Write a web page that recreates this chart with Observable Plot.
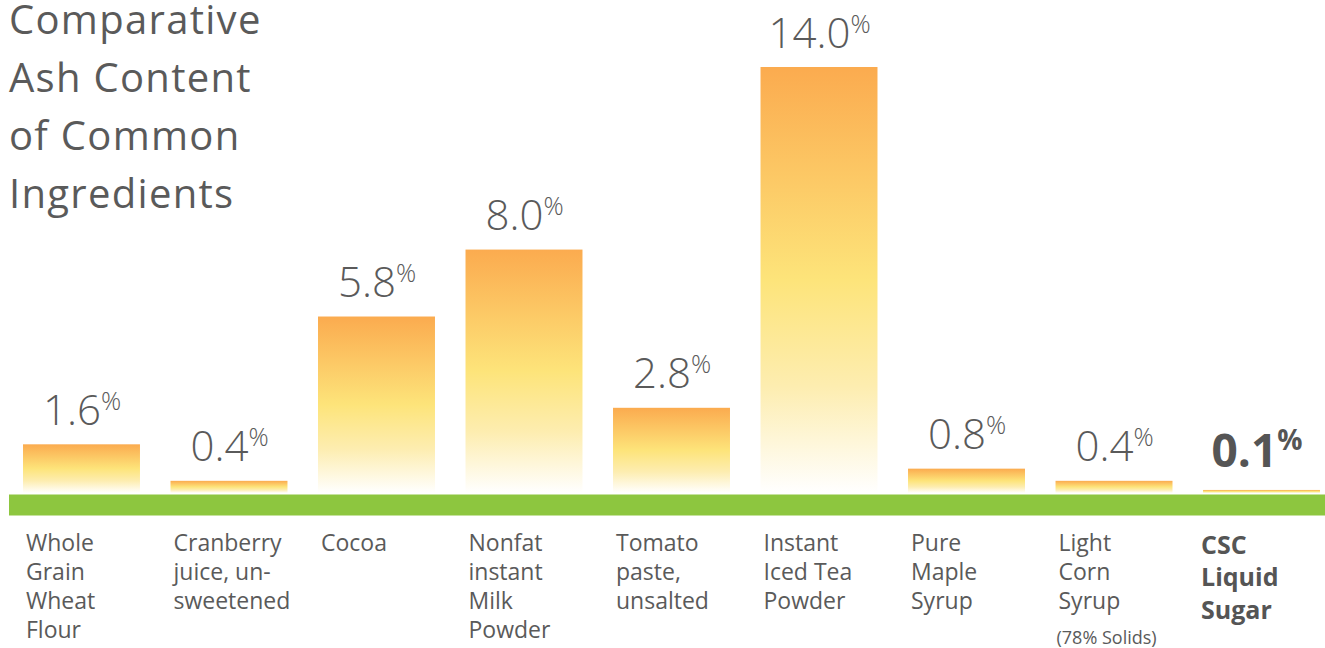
<!DOCTYPE html>
<html><head><meta charset="utf-8">
<script src="https://cdn.jsdelivr.net/npm/d3@7"></script>
<script src="https://cdn.jsdelivr.net/npm/@observablehq/plot@0.6"></script>
<style>
html,body{margin:0;padding:0;background:#fff;}
#wrap{position:relative;width:1325px;height:648px;overflow:hidden;}
#title{position:absolute;left:9px;top:0;margin:0;font-family:"Open Sans",sans-serif;font-size:40px;letter-spacing:1.3px;color:#5a5a5a;font-weight:400;}
#title span{display:block;height:58px;line-height:38px;white-space:nowrap;}
</style></head><body>
<div id="wrap"><h1 id="title"><span>Comparative</span><span>Ash Content</span><span>of Common</span><span>Ingredients</span></h1></div>
<script>
const categories = ["Whole Grain Wheat Flour","Cranberry juice, unsweetened","Cocoa","Nonfat instant Milk Powder","Tomato paste, unsalted","Instant Iced Tea Powder","Pure Maple Syrup","Light Corn Syrup","CSC Liquid Sugar"];
const labels = ["Whole\nGrain\nWheat\nFlour","Cranberry\njuice, un-\nsweetened","Cocoa","Nonfat\ninstant\nMilk\nPowder","Tomato\npaste,\nunsalted","Instant\nIced Tea\nPowder","Pure\nMaple\nSyrup","Light\nCorn\nSyrup","CSC\nLiquid\nSugar"];
const values = [1.6, 0.4, 5.8, 8.0, 2.8, 14.0, 0.8, 0.4, 0.1];
const notes = ["","","","","","","","(78% Solids)",""];
const highlight = "CSC Liquid Sugar";

const data = categories.map((c,i)=>({category:c,label:labels[i],value:values[i],note:notes[i],bold:c===highlight}));
const gray = "#5a5a5a";

const gradient = () => {
  const defs = d3.create("svg:defs");
  const g = defs.append("linearGradient").attr("id","ashGrad").attr("x1",0).attr("y1",0).attr("x2",0).attr("y2",1);
  g.append("stop").attr("offset","0").attr("stop-color","#fbab4f");
  g.append("stop").attr("offset","0.5").attr("stop-color","#fde47a");
  g.append("stop").attr("offset","0.75").attr("stop-color","#fdedb0");
  g.append("stop").attr("offset","1").attr("stop-color","#ffffff");
  return defs.node();
};

const chart = Plot.plot({
  width:1325, height:648,
  marginLeft:23, marginRight:5, marginTop:67, marginBottom:155,
  x:{domain:categories, paddingInner:0.207, paddingOuter:0, round:false, axis:null},
  y:{domain:[0,14], axis:null},
  style:{fontFamily:"'Open Sans', sans-serif", background:"transparent", overflow:"visible"},
  marks:[
    gradient,
    Plot.barY(data,{x:"category", y:"value", fill:"url(#ashGrad)"}),
    Plot.ruleY([0],{stroke:"#8dc63f", strokeWidth:21, dy:11.5, insetLeft:-14, insetRight:-5}),
    Plot.text(data.filter(d=>!d.bold),{x:"category", y:"value", text:d=>d.value.toFixed(1)+"%", lineAnchor:"bottom", dy:-20, fontSize:42, fontWeight:300, fill:gray}),
    Plot.text(data.filter(d=>d.bold),{x:"category", y:"value", text:d=>d.value.toFixed(1)+"%", lineAnchor:"bottom", dy:-23, dx:-5, fontSize:46, fontWeight:700, fill:"#555555"}),
    Plot.text(data.filter(d=>!d.bold),{x:"category", y:0, text:"label", textAnchor:"start", lineAnchor:"top", dx:-56, dy:37, fontSize:23, lineHeight:1.26, fill:gray}),
    Plot.text(data.filter(d=>d.bold),{x:"category", y:0, text:"label", textAnchor:"start", lineAnchor:"top", dx:-61, dy:37, fontSize:25, lineHeight:1.3, fontWeight:700, fill:"#555555"}),
    Plot.text(data.filter(d=>d.note),{x:"category", y:0, text:"note", textAnchor:"start", lineAnchor:"top", dx:-58, dy:138, fontSize:18, fill:gray})
  ]
});

d3.select(chart).selectAll("text").each(function(){
  const m = /^(\d+\.\d)%$/.exec(this.textContent);
  if (!m) return;
  const sel = d3.select(this);
  const bold = sel.attr("font-weight") === "700" || (this.parentNode && d3.select(this.parentNode).attr("font-weight") === "700");
  sel.text(null);
  sel.append("tspan").text(m[1]);
  sel.append("tspan").attr("font-size", bold ? 28 : 25).attr("dy", bold ? -17 : -15).text("%");
});

document.getElementById("wrap").prepend(chart);
</script>
</body></html>
